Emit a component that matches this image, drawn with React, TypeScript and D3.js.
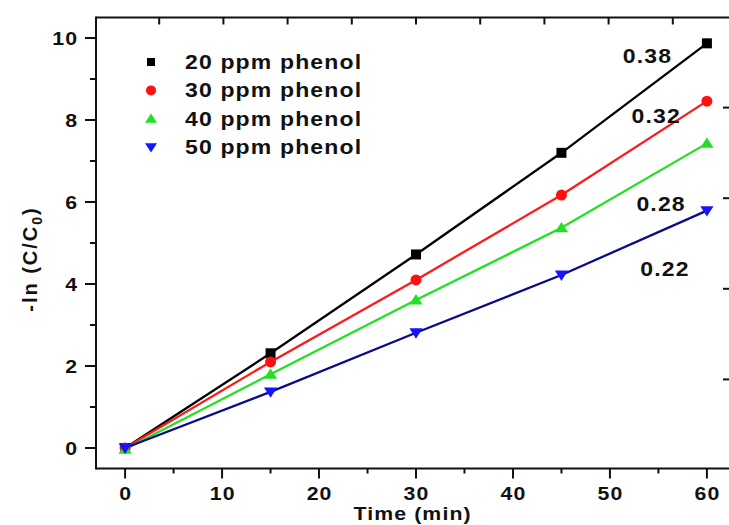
import React from "react";
import * as d3 from "d3";

const times = [0, 15, 30, 45, 60];
const series20 = [0, 2.31, 4.72, 7.2, 9.87];
const series30 = [0, 2.1, 4.1, 6.17, 8.46];
const series40 = [-0.03, 1.8, 3.61, 5.37, 7.43];
const series50 = [0, 1.37, 2.81, 4.22, 5.79];
const seriesNames = ["20 ppm phenol", "30 ppm phenol", "40 ppm phenol", "50 ppm phenol"];
const rateLabels = ["0.38", "0.32", "0.28", "0.22"];
const rateLabelX = [56.3, 57.2, 57.7, 58.1];
const rateLabelY = [9.39, 7.93, 5.78, 4.2];
const xTicks = [0, 10, 20, 30, 40, 50, 60];
const xMinor = [5, 15, 25, 35, 45, 55];
const yTicks = [0, 2, 4, 6, 8, 10];
const yMinor = [1, 3, 5, 7, 9];
const topTicks = [1, 2, 3, 4, 5, 6, 7, 8, 9];
const rightTicks = [1, 2, 3, 4];

const W = 729;
const H = 525;
const FONT = "'Liberation Sans', Arial, sans-serif";

type TProps = {
  x: number;
  y: number;
  anchor?: "start" | "middle" | "end";
  size?: number;
  ls?: number;
  sx?: number;
  rotate?: number;
  children: React.ReactNode;
};

function T({ x, y, anchor = "start", size = 20, ls = 1, sx = 1.15, rotate = 0, children }: TProps) {
  // compensate the trailing letter-spacing for anchored text
  const dx = anchor === "end" ? ls : anchor === "middle" ? ls / 2 : 0;
  return (
    <text
      transform={`translate(${x},${y}) rotate(${rotate}) scale(${sx},1)`}
      x={dx}
      y={0}
      textAnchor={anchor}
      fontFamily={FONT}
      fontWeight={700}
      fontSize={size}
      fill="#111"
      letterSpacing={ls}
    >
      {children}
    </text>
  );
}

export default function App() {
  const x = d3.scaleLinear().domain([-3, 63]).range([96, 736]);
  const y = d3.scaleLinear().domain([-0.5, 10.5]).range([468.5, 17.5]);
  const xTop = d3.scaleLinear().domain([0, 10]).range([95, 737]);
  const yRight = d3.scaleLinear().domain([0, 5]).range([17, 470]);

  const all = [series20, series30, series40, series50];
  const lineColors = ["#000000", "#ff1a1a", "#22e022", "#0a0a8a"];
  const markColors = ["#000000", "#ff1010", "#22e022", "#1414ff"];
  const shapes = ["square", "circle", "up", "down"];

  const line = d3
    .line<number>()
    .x((_, i) => x(times[i]))
    .y((v) => y(v));

  const marker = (shape: string, cx: number, cy: number, color: string, s: number, key?: string) => {
    if (shape === "square")
      return <rect key={key} x={cx - s / 2} y={cy - s / 2} width={s} height={s} fill={color} />;
    if (shape === "circle") return <circle key={key} cx={cx} cy={cy} r={s / 2} fill={color} />;
    const h = s * 0.9;
    if (shape === "up")
      return (
        <path
          key={key}
          d={`M${cx},${cy - h * 0.6} L${cx + s * 0.6},${cy + h * 0.45} L${cx - s * 0.6},${cy + h * 0.45} Z`}
          fill={color}
        />
      );
    return (
      <path
        key={key}
        d={`M${cx},${cy + h * 0.6} L${cx + s * 0.6},${cy - h * 0.45} L${cx - s * 0.6},${cy - h * 0.45} Z`}
        fill={color}
      />
    );
  };

  return (
    <svg width={W} height={H} style={{ position: "absolute", left: 0, top: 0 }}>
      <rect width={W} height={H} fill="#fff" />
      {/* frame */}
      <path d={`M96,${y(10.5)} H740`} stroke="#111" strokeWidth={2} />
      <path d={`M96,${y(-0.5)} H740`} stroke="#111" strokeWidth={2} />
      <path d={`M96,${y(10.5) - 1} V${y(-0.5) + 1}`} stroke="#111" strokeWidth={2} />

      {/* top ticks */}
      {topTicks.map((t) => (
        <line key={"tt" + t} x1={xTop(t)} x2={xTop(t)} y1={y(10.5)} y2={y(10.5) + 7} stroke="#111" strokeWidth={2} />
      ))}
      {/* right-edge ticks */}
      {rightTicks.map((t) => (
        <line key={"rt" + t} x1={723} x2={730} y1={yRight(t)} y2={yRight(t)} stroke="#111" strokeWidth={2} />
      ))}

      {/* x ticks */}
      {xTicks.map((t) => (
        <g key={"x" + t}>
          <line x1={x(t)} x2={x(t)} y1={y(-0.5)} y2={y(-0.5) + 10} stroke="#111" strokeWidth={2} />
          <T x={x(t)} y={500} anchor="middle" size={19} sx={1.12}>
            {t}
          </T>
        </g>
      ))}
      {xMinor.map((t) => (
        <line key={"xm" + t} x1={x(t)} x2={x(t)} y1={y(-0.5)} y2={y(-0.5) + 5} stroke="#111" strokeWidth={2} />
      ))}

      {/* y ticks */}
      {yTicks.map((t) => (
        <g key={"y" + t}>
          <line x1={85} x2={96} y1={y(t)} y2={y(t)} stroke="#111" strokeWidth={2} />
          <T x={77} y={y(t) + 7} anchor="end" size={19} sx={1.12}>
            {t}
          </T>
        </g>
      ))}
      {yMinor.map((t) => (
        <line key={"ym" + t} x1={90} x2={96} y1={y(t)} y2={y(t)} stroke="#111" strokeWidth={2} />
      ))}

      {/* axis titles */}
      <T x={412} y={520} anchor="middle" size={19} sx={1.12}>
        Time (min)
      </T>
      <T x={37} y={260} anchor="middle" size={20} sx={1} ls={2} rotate={-90}>
        -ln (C/C
        <tspan fontSize={14} dy={5}>0</tspan>
        <tspan dy={-5}>)</tspan>
      </T>

      {/* lines */}
      {all.map((s, i) => (
        <path key={"l" + i} d={line(s) || ""} fill="none" stroke={lineColors[i]} strokeWidth={2.3} />
      ))}
      {/* markers */}
      {all.map((s, i) =>
        s.map((v, j) => marker(shapes[i], x(times[j]), y(v), markColors[i], i === 0 ? 10 : 11, `m${i}-${j}`))
      )}

      {/* rate labels */}
      {rateLabels.map((l, i) => (
        <T key={"r" + i} x={x(rateLabelX[i])} y={y(rateLabelY[i])} anchor="end">
          {l}
        </T>
      ))}

      {/* legend */}
      {seriesNames.map((n, i) => (
        <g key={"lg" + i}>
          {marker(shapes[i], 151, 62 + i * 28.4, markColors[i], i === 0 ? 8 : 10)}
          <T x={185} y={69 + i * 28.4}>
            {n}
          </T>
        </g>
      ))}
    </svg>
  );
}
